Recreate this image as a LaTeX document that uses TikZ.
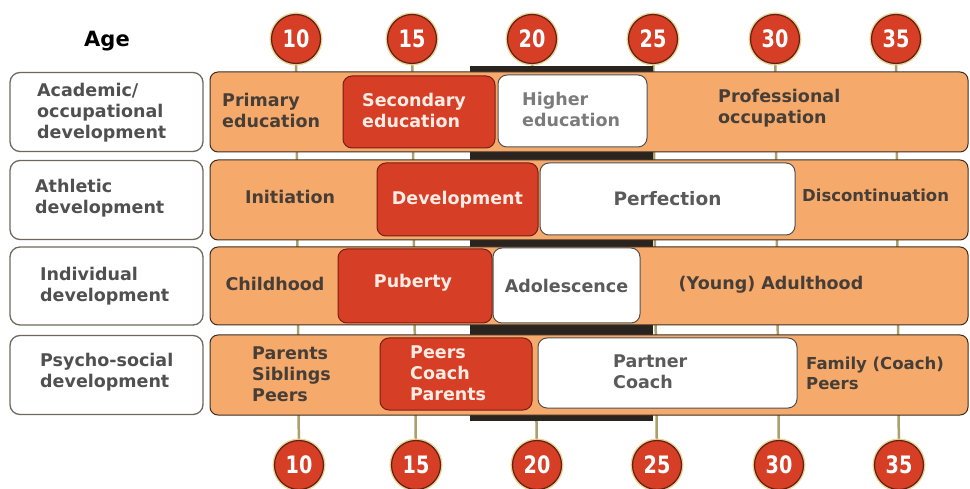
\documentclass[tikz,border=0pt]{standalone}
\usepackage{fontspec}
\usepackage{graphicx}
\setmainfont{DejaVu Sans}
\definecolor{aorange}{RGB}{245,170,108}
\definecolor{ared}{RGB}{214,62,38}
\definecolor{redline}{RGB}{120,30,20}
\definecolor{bardark}{RGB}{60,45,35}
\definecolor{labgrey}{RGB}{110,105,95}
\definecolor{whiteline}{RGB}{80,80,80}
\definecolor{btext}{RGB}{70,62,55}
\definecolor{ltext}{RGB}{80,80,80}
\definecolor{wtext}{RGB}{90,90,90}
\definecolor{redtext}{RGB}{255,236,228}
\definecolor{darkbar}{RGB}{42,36,32}
\definecolor{tickc}{RGB}{170,160,110}
\definecolor{halo}{RGB}{228,214,150}
\definecolor{cdark}{RGB}{100,30,20}
\newcommand\ftxt{\fontsize{17.5}{21}\selectfont\bfseries}
\newcommand\fsmall{\fontsize{16.5}{20}\selectfont\bfseries}
\newcommand\fnum{\fontsize{24}{24}\selectfont\bfseries}
\newcommand\agenum[1]{\scalebox{0.8}[1]{#1}}
\begin{document}
\begin{tikzpicture}[x=1pt,y=-1pt,
  bar/.style={draw=bardark, line width=1pt, fill=aorange, rounded corners=8pt, inner sep=0pt},
  labbox/.style={draw=labgrey, line width=1.3pt, fill=white, rounded corners=10pt, inner sep=0pt},
  redbox/.style={draw=redline, line width=1pt, fill=ared, rounded corners=9pt, inner sep=0pt, text=redtext, font=\ftxt},
  whitebox/.style={draw=whiteline, line width=1pt, fill=white, rounded corners=9pt, inner sep=0pt, text=wtext, font=\ftxt},
  txt/.style={inner sep=0pt, align=left, text=btext, font=\ftxt},
  labtxt/.style={inner sep=0pt, align=left, text=ltext, font=\ftxt},
  redtxt/.style={inner sep=0pt, align=left, text=redtext, font=\ftxt},
  whtxt/.style={inner sep=0pt, align=left, text=wtext, font=\ftxt},
  agecirc/.style={circle, fill=ared, draw=cdark, line width=1.2pt, minimum size=49pt, inner sep=0pt, text=white, font=\fnum, preaction={draw=halo, line width=4pt}},
  tick/.style={draw=tickc, line width=2.5pt}
]
\useasboundingbox (0,0) rectangle (970,489);
% circle centres
\coordinate (t10) at (296,39); \coordinate (t15) at (412,39); \coordinate (t20) at (532,39);
\coordinate (t25) at (653,39); \coordinate (t30) at (775,39); \coordinate (t35) at (896,39);
\coordinate (b10) at (299,465); \coordinate (b15) at (416,465); \coordinate (b20) at (537,465);
\coordinate (b25) at (657,465); \coordinate (b30) at (779,465); \coordinate (b35) at (899,465);
% vertical age ticks
\foreach \a in {10,15,20,25,30,35} { \draw[tick] (t\a) -- (b\a); }
% dark band
\fill[darkbar] (470,66) rectangle (653,421);
% Age label
\node[inner sep=0pt, font=\fontsize{21}{21}\selectfont\bfseries, text=black] (age) at (107,41) {Age};
% row labels
\node[labbox, minimum width=193pt, minimum height=79pt] (l1) at (106.5,112) {};
\node[labbox, minimum width=193pt, minimum height=79pt] (l2) at (106.5,200) {};
\node[labbox, minimum width=193pt, minimum height=78pt] (l3) at (106.5,286) {};
\node[labbox, minimum width=193pt, minimum height=79pt] (l4) at (106.5,375) {};
\node[labtxt, anchor=west] (l1t) at (37,113) {Academic/\\occupational\\development};
\node[labtxt, anchor=west] (l2t) at (35,198) {Athletic\\development};
\node[labtxt, anchor=west] (l3t) at (40,286) {Individual\\development};
\node[labtxt, anchor=west] (l4t) at (40,372) {Psycho-social\\development};
% row bars
\node[bar, minimum width=758pt, minimum height=80pt] (r1) at (589,112) {};
\node[bar, minimum width=758pt, minimum height=80pt] (r2) at (589,200) {};
\node[bar, minimum width=758pt, minimum height=78pt] (r3) at (589,286) {};
\node[bar, minimum width=758pt, minimum height=80pt] (r4) at (589,375) {};
% row 1
\node[redbox, minimum width=152pt, minimum height=72pt] (r1b) at (419,112) {};
\node[whitebox, minimum width=149pt, minimum height=72pt] (r1c) at (572.5,111) {};
\node[txt, anchor=west] (r1at) at (222,110) {Primary\\education};
\node[redtxt, anchor=west] (r1bt) at (362,110) {Secondary\\education};
\node[whtxt, anchor=west, text=wtext!80] (r1ct) at (522,109) {Higher\\education};
\node[txt, anchor=west] (r1dt) at (718,108) {Professional\\occupation};
% row 2
\node[redbox, minimum width=161pt, minimum height=73pt] (r2b) at (457.5,199.5) {Development};
\node[whitebox, minimum width=255pt, minimum height=72pt, font=\fontsize{18.5}{21}\selectfont\bfseries] (r2c) at (667.5,199) {Perfection};
\node[txt] (r2at) at (290,197) {Initiation};
\node[txt, anchor=west, font=\fsmall] (r2dt) at (802,195) {Discontinuation};
% row 3
\node[redbox, minimum width=154pt, minimum height=74pt] (r3b) at (415,286) {};
\node[whitebox, minimum width=147pt, minimum height=75pt] (r3c) at (566.5,285.5) {Adolescence};
\node[txt] (r3at) at (275,284) {Childhood};
\node[redtxt] (r3bt) at (413,283) {Puberty};
\node[txt] (r3dt) at (771,285) {(Young) Adulthood};
% row 4
\node[redbox, minimum width=152pt, minimum height=72pt] (r4b) at (456,374) {};
\node[whitebox, minimum width=259pt, minimum height=70pt] (r4c) at (667.5,373) {};
\node[txt, anchor=west] (r4at) at (252,374) {Parents\\Siblings\\Peers};
\node[redtxt, anchor=west] (r4bt) at (410,373) {Peers\\Coach\\Parents};
\node[whtxt, anchor=west] (r4ct) at (613,372) {Partner\\Coach};
\node[txt, anchor=west, font=\fsmall] (r4dt) at (806,373) {Family (Coach)\\Peers};
% age circles
\foreach \a in {10,15,20,25,30,35} {
  \node[agecirc] (ct\a) at (t\a) {\agenum{\a}};
  \node[agecirc] (cb\a) at (b\a) {\agenum{\a}};
}
\end{tikzpicture}
\end{document}
